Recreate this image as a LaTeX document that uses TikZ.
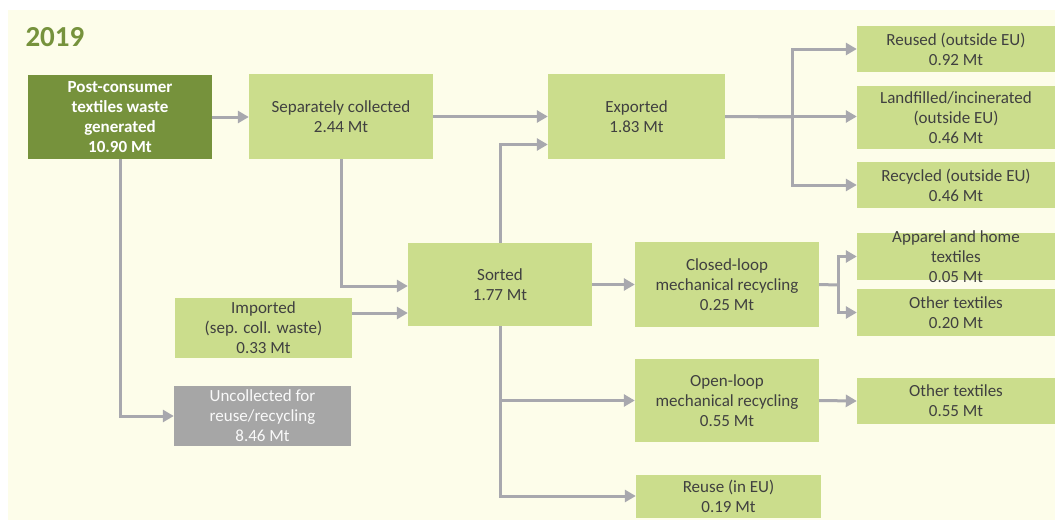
\documentclass[tikz,border=0pt]{standalone}
\usepackage{fontspec}
\setmainfont{Carlito}
\usetikzlibrary{arrows.meta}
\definecolor{bgcream}{HTML}{FDFDEA}
\definecolor{lgreen}{HTML}{CBDD8C}
\definecolor{dgreen}{HTML}{76923C}
\definecolor{gbox}{HTML}{A6A6A6}
\definecolor{arrowgray}{HTML}{A8A8AE}
\definecolor{txt}{HTML}{404040}
\begin{document}
\begin{tikzpicture}[x=1pt,y=-1pt,
  box/.style={fill=lgreen, draw=none, inner sep=0pt, align=center, text=txt,
    font=\fontsize{17}{20}\selectfont},
  darkbox/.style={box, fill=dgreen, text=white, font=\fontsize{17}{20}\selectfont\bfseries},
  graybox/.style={box, fill=gbox, text=white!95!gray},
  flow/.style={draw=arrowgray, line width=3pt, -{Triangle[length=11pt,width=12pt]}},
  plainflow/.style={draw=arrowgray, line width=3pt}
]
\useasboundingbox (0,0) rectangle (1055,520);
\fill[white] (0,0) rectangle (1055,520);
\fill[bgcream] (8,10) rectangle (1055,520);

\node[anchor=base west, text=dgreen, font=\fontsize{29}{32}\selectfont\bfseries] (title) at (22,46) {2019};

\node[darkbox, minimum width=184pt, minimum height=84pt] (pc) at (120,117) {Post-consumer\\textiles waste\\generated\\10.90 Mt};
\node[box, minimum width=184pt, minimum height=85pt] (sep) at (341,116.5) {Separately collected\\2.44 Mt};
\node[box, minimum width=177pt, minimum height=85pt] (exp) at (636.5,116.5) {Exported\\1.83 Mt};
\node[box, minimum width=198pt, minimum height=46pt] (reused) at (956,49) {Reused (outside EU)\\0.92 Mt};
\node[box, minimum width=198pt, minimum height=63pt] (land) at (956,117.5) {Landfilled/incinerated\\(outside EU)\\0.46 Mt};
\node[box, minimum width=198pt, minimum height=46pt] (recyc) at (956,185) {Recycled (outside EU)\\0.46 Mt};
\node[box, minimum width=184pt, minimum height=83pt] (sort) at (500,284.5) {Sorted\\1.77 Mt};
\node[box, minimum width=177pt, minimum height=60pt] (imp) at (263.5,328) {Imported\\(sep. coll. waste)\\0.33 Mt};
\node[graybox, minimum width=177pt, minimum height=60pt] (unc) at (262.5,416) {Uncollected for\\reuse/recycling\\8.46 Mt};
\node[box, minimum width=184pt, minimum height=85pt] (closed) at (727,284.5) {Closed-loop\\mechanical recycling\\0.25 Mt};
\node[box, minimum width=198pt, minimum height=47pt,
  label={[align=center, text=txt, font=\fontsize{17}{20}\selectfont, inner sep=0pt]center:Apparel and home\\textiles\\0.05 Mt}] (app) at (956,256.5) {};
\node[box, minimum width=198pt, minimum height=47pt] (oth1) at (956,312.5) {Other textiles\\0.20 Mt};
\node[box, minimum width=184pt, minimum height=83pt] (open) at (727,400.5) {Open-loop\\mechanical recycling\\0.55 Mt};
\node[box, minimum width=198pt, minimum height=46pt] (oth2) at (956,401) {Other textiles\\0.55 Mt};
\node[box, minimum width=185pt, minimum height=43pt] (reuse) at (728.5,496) {Reuse (in EU)\\0.19 Mt};

\coordinate (eb) at (792,117);
\coordinate (cb) at (838,285);

% connectors
\draw[flow] (pc.east) -- (pc.east -| sep.west);
\draw[flow] (sep.east) -- (sep.east -| exp.west);
\draw[flow] (sort.north) |- ([yshift=-28pt]exp.west);
\draw[flow] (sep.south) |- ([yshift=-1.5pt]sort.west);
\draw[flow] ([yshift=15pt]imp.east) -- ([yshift=15pt]imp.east -| sort.west);
\draw[flow] (pc.south) |- (unc.west);
\draw[flow] (sort.east) -- (closed.west);
\draw[flow] (sort.south) |- (reuse.west);
\draw[flow] (sort.south |- open.west) -- (open.west);
\draw[flow] (exp.east) -- (exp.east -| land.west);
\draw[plainflow] (exp.east) -- (eb);
\draw[flow] (eb) |- (reused.west);
\draw[flow] (eb) |- (recyc.west);
\draw[plainflow] (closed.east) -- (cb);
\draw[flow] (cb) |- (app.west);
\draw[flow] (cb) |- (oth1.west);
\draw[flow] (open.east) -- (oth2.west);
\end{tikzpicture}
\end{document}
